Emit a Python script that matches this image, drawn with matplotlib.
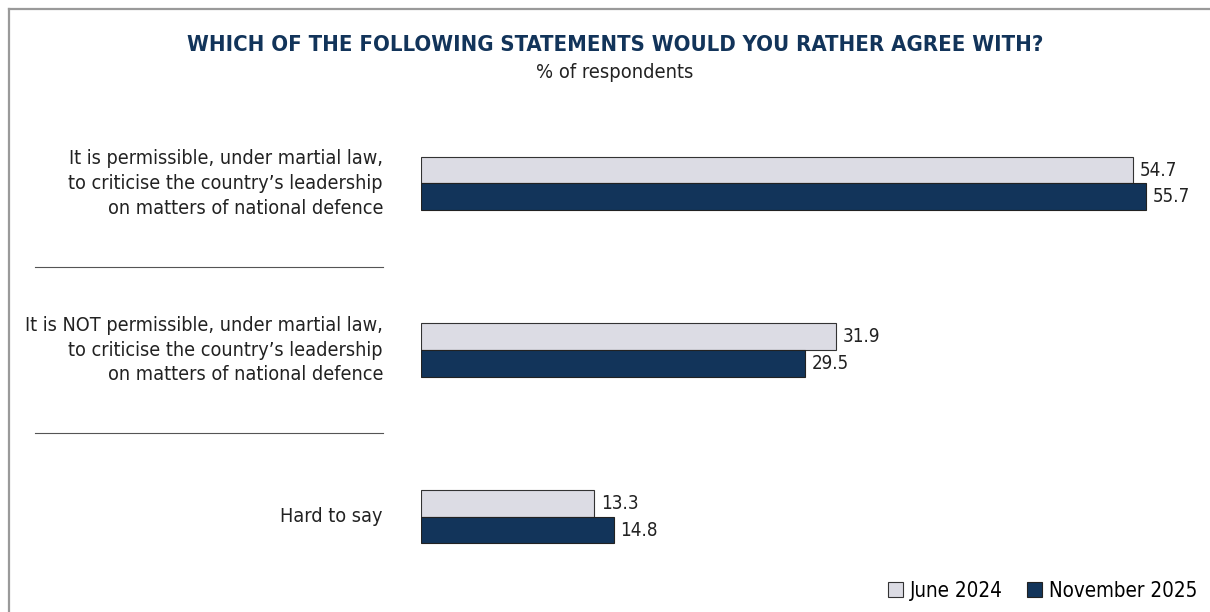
import matplotlib
matplotlib.use("Agg")
import matplotlib.pyplot as plt
import matplotlib.transforms as mtransforms
from matplotlib.lines import Line2D
from matplotlib.patches import Patch
import numpy as np

plt.rcParams['font.family'] = ['DejaVu Sans']
plt.rcParams['font.stretch'] = 'condensed'

# data
categories = [
    "It is permissible, under martial law,\nto criticise the country\u2019s leadership\non matters of national defence",
    "It is NOT permissible, under martial law,\nto criticise the country\u2019s leadership\non matters of national defence",
    "Hard to say",
]
june_2024 = [54.7, 31.9, 13.3]
nov_2025 = [55.7, 29.5, 14.8]
series_names = ["June 2024", "November 2025"]

title = "WHICH OF THE FOLLOWING STATEMENTS WOULD YOU RATHER AGREE WITH?"
subtitle = "% of respondents"

navy = "#12345a"
light = "#dcdce4"
W, H = 1210, 612

fig = plt.figure(figsize=(W / 100, H / 100), dpi=100)
ax = fig.add_axes((421 / W, 1 - 600 / H, 781 / W, 500 / H))
ax.set_xlim(0, 60)
ax.set_ylim(2.5, -0.5)
ax.axis("off")

pos = np.arange(len(categories))
h = 0.16
ax.barh(pos - h / 2, june_2024, height=h, color=light, edgecolor="#333333", linewidth=0.8)
ax.barh(pos + h / 2, nov_2025, height=h, color=navy, edgecolor="#222222", linewidth=0.8)

for p, v in zip(pos, june_2024):
    ax.text(v + 0.5, p - h / 2, f"{v:.1f}", va="center", ha="left", fontsize=13.5, color="#222222")
for p, v in zip(pos, nov_2025):
    ax.text(v + 0.5, p + h / 2, f"{v:.1f}", va="center", ha="left", fontsize=13.5, color="#222222")

# category labels and separators
blend = mtransforms.blended_transform_factory(fig.transFigure, ax.transData)
for p, lab in zip(pos, categories):
    fig.text(383 / W, p, lab, transform=blend, ha="right", va="center",
             fontsize=14.25, color="#222222", linespacing=1.38)
for p in pos[:-1] + 0.5:
    fig.add_artist(Line2D([35 / W, 383 / W], [p, p], transform=blend, color="#555555", lw=0.8))

# titles
fig.text(615 / W, 1 - 45 / H, title, ha="center", va="center", fontsize=15.8,
         fontweight="bold", color=navy)
fig.text(615 / W, 1 - 73 / H, subtitle, ha="center", va="center", fontsize=14.4, color="#222222")

# frame
fig.add_artist(Line2D([9 / W, 1], [1 - 8.5 / H, 1 - 8.5 / H], color="#9a9a9a", lw=1.6))
fig.add_artist(Line2D([9 / W, 9 / W], [0, 1 - 8.5 / H], color="#9a9a9a", lw=1.6))

# legend
handles = [Patch(facecolor=light, edgecolor="#333333", linewidth=0.8),
           Patch(facecolor=navy, edgecolor="#222222", linewidth=0.8)]
fig.legend(handles, series_names, loc="center right", bbox_to_anchor=(1208 / W, 1 - 591 / H),
           ncol=2, frameon=False, fontsize=14.8, handlelength=0.75, handleheight=0.75,
           handletextpad=0.35, columnspacing=1.15, borderpad=0)

fig.savefig("out.png", dpi=100)
